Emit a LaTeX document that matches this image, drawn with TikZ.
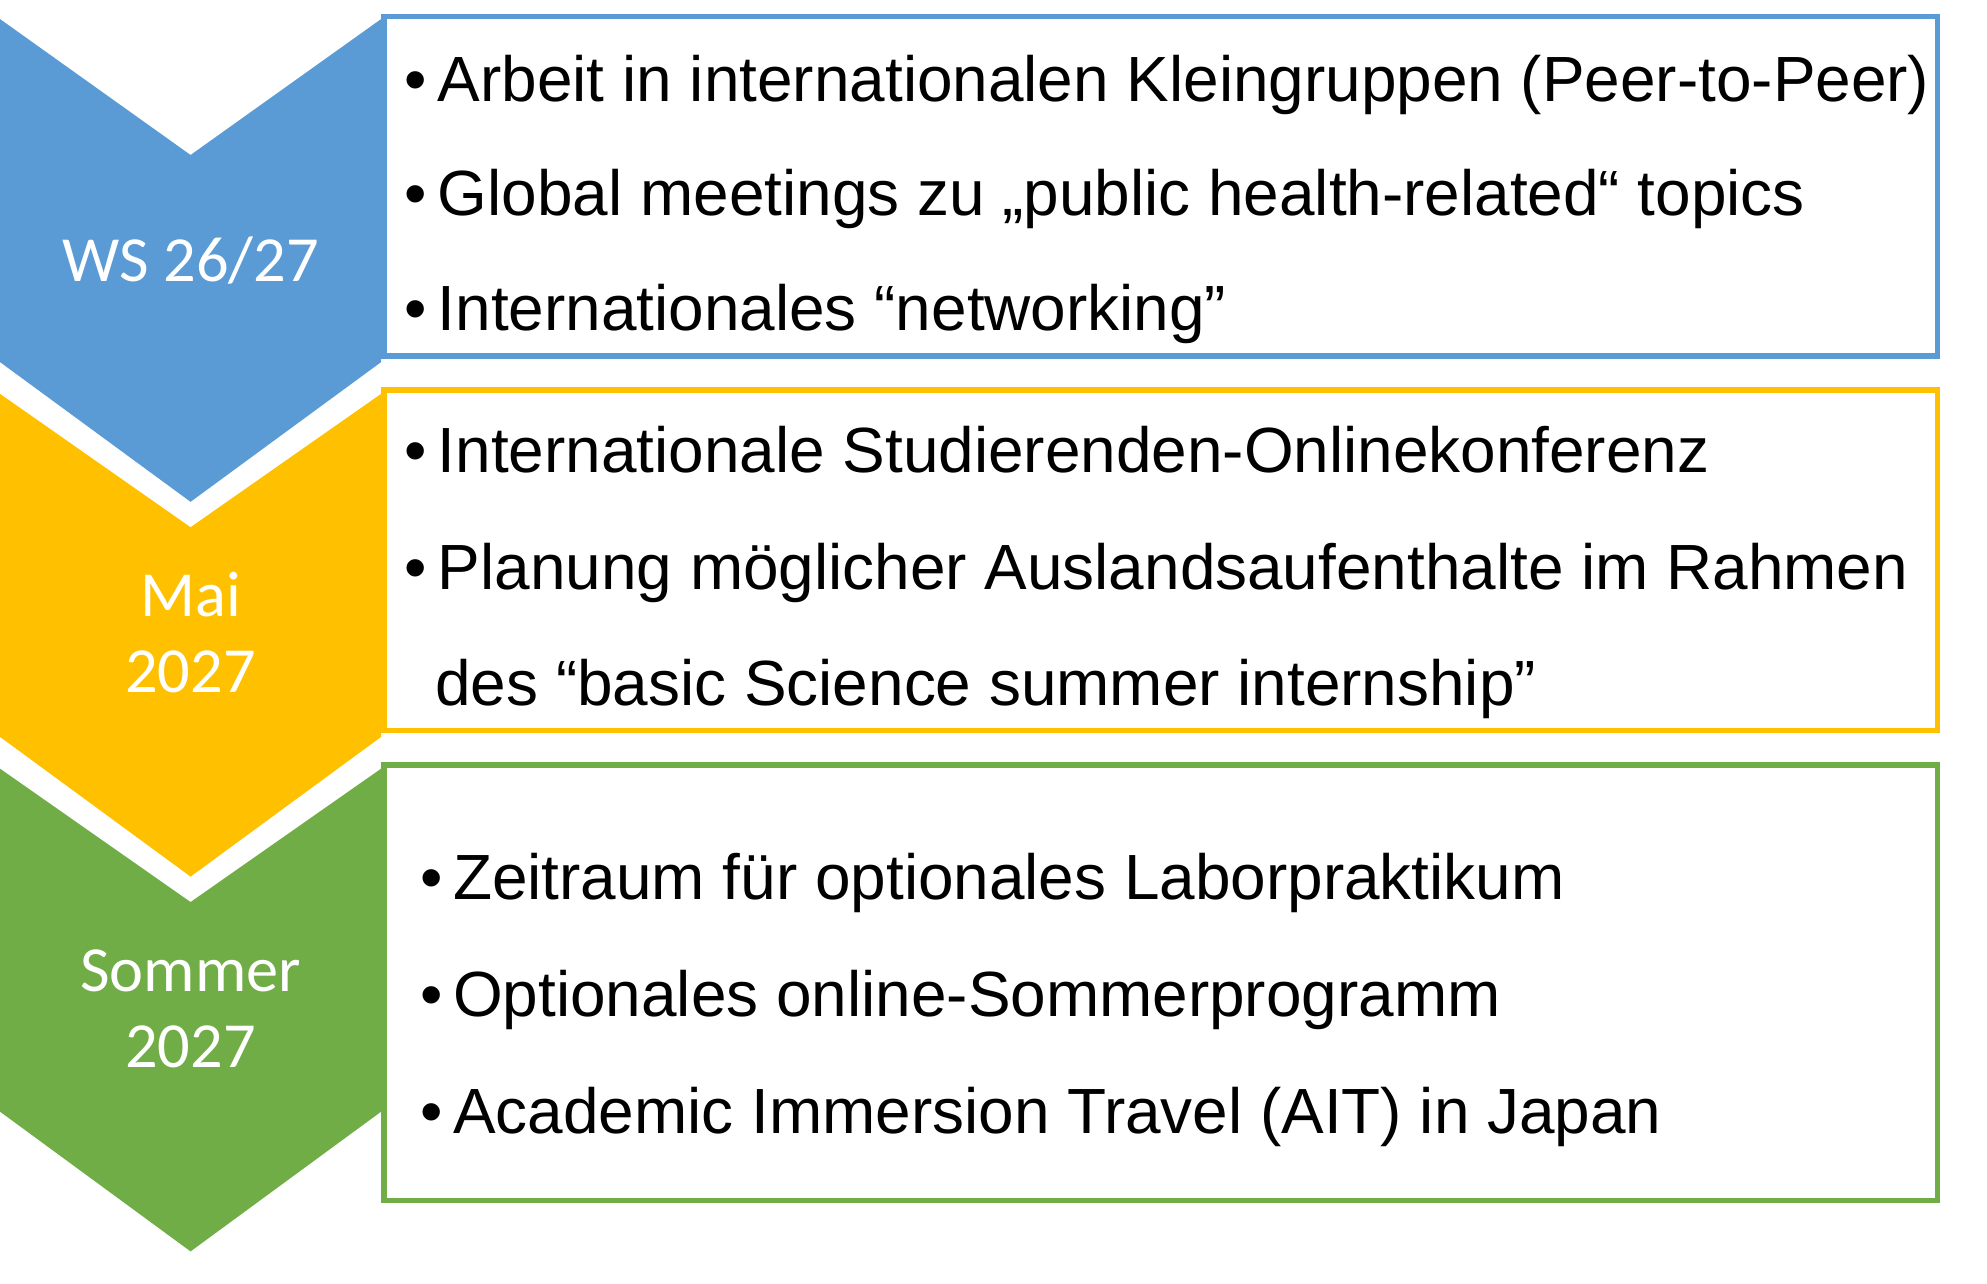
\documentclass[tikz,border=0pt]{standalone}
\usepackage{fontspec}
\setmainfont{Liberation Sans}
\newfontfamily\labelfont{Carlito}
\definecolor{wsblue}{HTML}{5B9BD5}
\definecolor{maiyellow}{HTML}{FFC000}
\definecolor{sogreen}{HTML}{70AD47}
\tikzset{
  chevron/.style={fill=#1, draw=none},
  infobox/.style={draw=#1, line width=1.3pt},
  phase/.style={text=white, align=center, font=\labelfont\fontsize{14.4}{17}\selectfont},
  item/.style={anchor=base west, inner sep=0pt, font=\fontsize{14.3}{17}\selectfont}
}
\begin{document}
\begin{tikzpicture}[x=0.01cm, y=-0.01cm]
    \useasboundingbox (0,0) rectangle (1564,1010);

    % chevrons
    \fill[chevron=wsblue] (0,15) -- (150,122) -- (300,15) -- (300,285) -- (150,395) -- (0,285) -- cycle;
    \fill[chevron=maiyellow] (0,310) -- (150,415) -- (300,310) -- (300,580) -- (150,690) -- (0,580) -- cycle;
    \fill[chevron=sogreen] (0,605) -- (150,710) -- (300,605) -- (300,875) -- (150,985) -- (0,875) -- cycle;

    % boxes
    \draw[infobox=wsblue, fill=white] (302,13) rectangle (1525,280);
    \draw[infobox=maiyellow, fill=white] (302,307) rectangle (1525,575);
    \draw[infobox=sogreen, fill=white] (302,602) rectangle (1525,945);

    % phase labels
    \node[phase] (ws) at (150,205) {WS 26/27};
    \node[phase] (mai) at (150,498) {Mai\\2027};
    \node[phase] (sommer) at (150,794) {Sommer\\2027};

    % items
    \node[item] (ws1) at (318,80) {\textbullet\,Arbeit in internationalen Kleingruppen (Peer-to-Peer)};
    \node[item] (ws2) at (318,170) {\textbullet\,Global meetings zu „public health-related“ topics};
    \node[item] (ws3) at (318,260) {\textbullet\,Internationales “networking”};
    \node[item] (mai1) at (318,372) {\textbullet\,Internationale Studierenden-Onlinekonferenz};
    \node[item] (mai2) at (318,464) {\textbullet\,Planung möglicher Auslandsaufenthalte im Rahmen};
    \node[item] (mai3) at (342,555) {des “basic Science summer internship”};
    \node[item] (so1) at (330,708) {\textbullet\,Zeitraum für optionales Laborpraktikum};
    \node[item] (so2) at (330,800) {\textbullet\,Optionales online-Sommerprogramm};
    \node[item] (so3) at (330,892) {\textbullet\,Academic Immersion Travel (AIT) in Japan};
\end{tikzpicture}
\end{document}
